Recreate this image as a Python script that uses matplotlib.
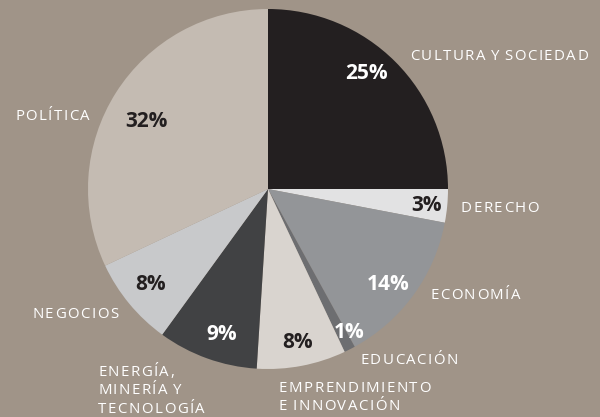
import matplotlib.pyplot as plt
from matplotlib import font_manager
from matplotlib.ft2font import FT2Font

# datos
categorias = ["CULTURA Y SOCIEDAD", "DERECHO", "ECONOMÍA", "EDUCACIÓN",
              "EMPRENDIMIENTO\nE INNOVACIÓN", "ENERGÍA,\nMINERÍA Y\nTECNOLOGÍA",
              "NEGOCIOS", "POLÍTICA"]
porcentajes = [25, 3, 14, 1, 8, 9, 8, 32]

colores = ["#231f20", "#e2e2e3", "#939598", "#6d6e71",
           "#d9d4cf", "#414244", "#c8c9cb", "#c4bbb2"]
color_pct = ["white", "#231f20", "white", "white",
             "#231f20", "white", "#231f20", "#231f20"]
fondo = "#a09488"

# posiciones en pixeles (x, y desde arriba); etiquetas: linea base de la 1a linea
pos_pct = [(366, 74), (427, 206), (388, 285), (349, 332),
           (298, 342), (222, 334), (151, 285), (146, 122)]
pos_etq = [(410, 60), (461, 212), (430, 299), (360, 364),
           (279, 392), (98, 376), (32, 318), (15, 120)]

cx, cy, r = 268, 189, 180
W, H = 600, 417
DPI = 100
TAM_ETQ = 10.8
TRACKING = 1.5   # px extra entre letras
INTERLINEA = 18.5

ruta_fuente = font_manager.findfont(font_manager.FontProperties(family="Open Sans"))
ft = FT2Font(ruta_fuente)
ft.set_size(TAM_ETQ, DPI)


def a_datos(px, py):
    return (px - cx) / r, (cy - py) / r


def texto_espaciado(ax, texto, px, py):
    # matplotlib no tiene letter-spacing: se coloca letra por letra
    for n, linea in enumerate(texto.split("\n")):
        x = px
        y = py + n * INTERLINEA
        for ch in linea:
            g = ft.load_char(ord(ch))
            if ch == " ":
                x += g.linearHoriAdvance / 65536
                continue
            xd, yd = a_datos(x, y)
            ax.text(xd, yd, ch, color="white", fontsize=TAM_ETQ,
                    family="Open Sans", ha="left", va="baseline")
            x += g.linearHoriAdvance / 65536 + TRACKING


fig = plt.figure(figsize=(W / DPI, H / DPI), dpi=DPI, facecolor=fondo)
ax = fig.add_axes([0, 0, 1, 1])
ax.set_facecolor(fondo)

ax.pie(porcentajes, colors=colores, startangle=90, counterclock=False,
       radius=1, wedgeprops={"linewidth": 0})

for p, c, (px, py) in zip(porcentajes, color_pct, pos_pct):
    x, y = a_datos(px, py)
    ax.text(x, y, f"{p}%", color=c, fontsize=15, fontweight="bold",
            family="Open Sans", ha="center", va="center")

for etq, (px, py) in zip(categorias, pos_etq):
    texto_espaciado(ax, etq, px, py)

ax.set_xlim(-cx / r, (W - cx) / r)
ax.set_ylim(-(H - cy) / r, cy / r)
ax.set_aspect("equal")
ax.axis("off")

fig.savefig("out.png", dpi=DPI, facecolor=fondo)
